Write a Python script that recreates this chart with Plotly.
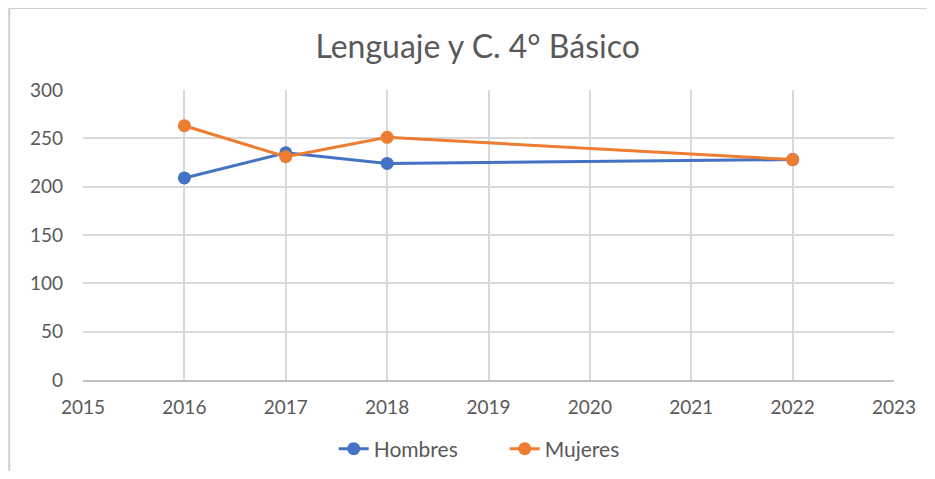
import plotly.graph_objects as go

years = [2016, 2017, 2018, 2022]
hombres = [209, 235, 224, 228]
mujeres = [263, 231, 251, 228]

x_ticks = list(range(2015, 2024))
y_ticks = [0, 50, 100, 150, 200, 250, 300]

fig = go.Figure()
fig.add_trace(go.Scatter(x=years, y=hombres, name="Hombres", mode="lines+markers",
                         line=dict(color="#4472C4", width=3), marker=dict(size=13, color="#4472C4")))
fig.add_trace(go.Scatter(x=years, y=mujeres, name="Mujeres", mode="lines+markers",
                         line=dict(color="#ED7D31", width=3), marker=dict(size=13, color="#ED7D31")))

font_family = "Lato, Open Sans, sans-serif"
fig.update_layout(
    width=919, height=463,
    paper_bgcolor="white", plot_bgcolor="white",
    margin=dict(l=75, r=33, t=82, b=91, autoexpand=False),
    title=dict(text="Lenguaje y C. 4° Básico", x=0.511, xanchor="center", y=0.916, yanchor="middle",
               font=dict(family=font_family, size=32, color="#595959")),
    font=dict(family=font_family, size=19, color="#595959"),
    legend=dict(orientation="h", x=0.520, xanchor="center", y=-0.238, yanchor="middle",
                entrywidth=126, entrywidthmode="pixels",
                font=dict(size=21, color="#595959")),
    showlegend=True,
    shapes=[dict(type="rect", xref="paper", yref="paper", x0=-0.091, x1=1.2, y0=-0.6, y1=1.283,
                 line=dict(color="#d0d0d0", width=2), fillcolor="rgba(0,0,0,0)", layer="below")],
)
fig.update_xaxes(range=[2015, 2023], tickvals=x_ticks, ticktext=[str(t) for t in x_ticks],
                 showgrid=True, gridcolor="#d9d9d9", gridwidth=2,
                 showline=True, linecolor="#bfbfbf", linewidth=2, ticks="", zeroline=False,
                 ticklabelstandoff=9, tickfont=dict(size=19, color="#595959"))
fig.update_yaxes(range=[0, 300], tickvals=y_ticks, showgrid=True, gridcolor="#d9d9d9", gridwidth=2,
                 showline=False, zeroline=False, ticks="", ticklabelstandoff=19,
                 tickfont=dict(size=19, color="#595959"))

fig.write_html("out.html")
